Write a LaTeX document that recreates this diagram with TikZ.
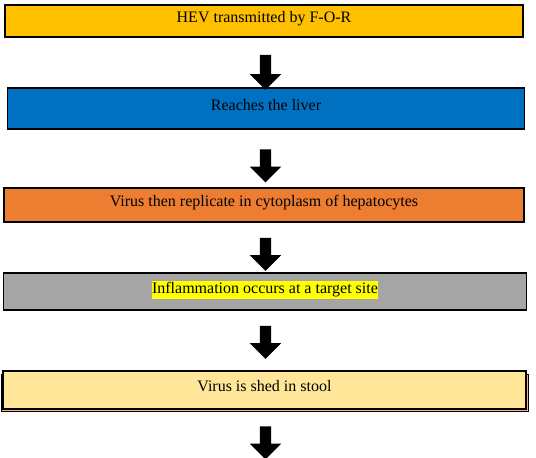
\documentclass[tikz,border=0pt]{standalone}
\usepackage{fontspec}
\setmainfont{Liberation Serif}
\usepackage{xcolor}
\usetikzlibrary{positioning, shapes.arrows}
\definecolor{boxgold}{HTML}{FFC000}
\definecolor{boxblue}{HTML}{0070C0}
\definecolor{boxorange}{HTML}{ED7D31}
\definecolor{boxgray}{HTML}{A5A5A5}
\definecolor{boxpale}{HTML}{FFE699}
\definecolor{boxpeach}{HTML}{F4B183}
\definecolor{hlyellow}{HTML}{FFFF00}
\newcommand{\hltext}[1]{{\setlength{\fboxsep}{0pt}\colorbox{hlyellow}{\strut#1}}}
\tikzset{
    stepnode/.style  = {draw=black, line width=1.2pt, align=center,
                        font=\fontsize{16}{18}\selectfont, inner sep=0pt,
                        text height=11.5pt, text depth=8pt},
    backnode/.style  = {draw=black, line width=1pt, fill=boxpeach, inner sep=0pt},
    downarrow/.style = {single arrow, fill=black, draw=none, rotate=-90,
                        inner xsep=0pt, inner ysep=5.5pt,
                        single arrow head extend=10pt, minimum height=33pt},
}
\begin{document}
\begin{tikzpicture}[x=1pt, y=-1pt]
\useasboundingbox (0,0) rectangle (536,458);

% steps
\node[stepnode, fill=boxgold, minimum width=518pt, minimum height=32pt] (b1)
    at (264,21) {HEV transmitted by F-O-R};
\node[stepnode, fill=boxblue, minimum width=517pt, minimum height=41pt] (b2)
    at (266,108.5) {Reaches the liver};
\node[stepnode, fill=boxorange, minimum width=520pt, minimum height=34pt] (b3)
    at (264,205) {Virus then replicate in cytoplasm of hepatocytes};
\node[stepnode, fill=boxgray, minimum width=523pt, minimum height=37pt] (b4)
    at (265,291.5) {\hltext{Inflammation occurs at a target site}};
\node[backnode, minimum width=527pt, minimum height=37.5pt] (b5back)
    at (265,392.75) {};
\node[stepnode, fill=boxpale, minimum width=523pt, minimum height=38pt] (b5)
    at (264.5,390) {Virus is shed in stool};

% block arrows
\node[downarrow, minimum height=35pt] (a1) at (265.5,69.5) {};
\node[downarrow] (a2) at (265.5,163) {};
\node[downarrow] (a3) at (265.5,251.5) {};
\node[downarrow] (a4) at (265.5,339.5) {};
\node[downarrow] (a5) at (265.5,440) {};

\end{tikzpicture}
\end{document}
